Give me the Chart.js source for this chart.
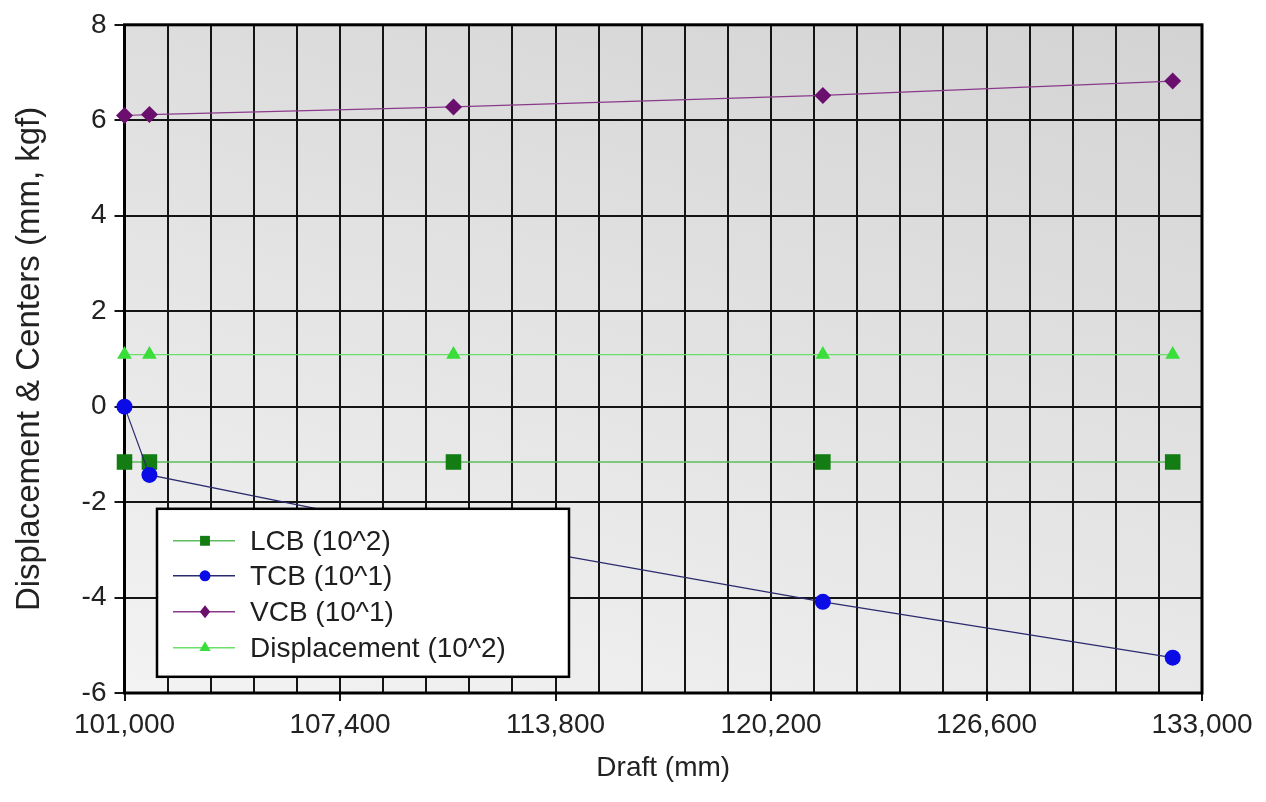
<!DOCTYPE html>
<html>
<head>
<meta charset="utf-8">
<script src="https://cdn.jsdelivr.net/npm/chart.js@4.4.1/dist/chart.umd.min.js"></script>
<style>
html,body{margin:0;padding:0;background:#fff;}
#wrap{width:1266px;height:802px;position:relative;}
</style>
</head>
<body>
<div id="wrap"><canvas id="c"></canvas></div>
<script>
// ---- data ----
const drafts = [101000, 101740, 110770, 121740, 132130];
const lcb = [-1.16, -1.16, -1.16, -1.16, -1.16];
const tcb = [0, -1.43, -2.72, -4.09, -5.26];
const vcb = [6.10, 6.12, 6.28, 6.52, 6.82];
const displacement = [1.09, 1.09, 1.09, 1.09, 1.09];
const seriesNames = ['LCB (10^2)', 'TCB (10^1)', 'VCB (10^1)', 'Displacement (10^2)'];
const xTickValues = [101000, 107400, 113800, 120200, 126600, 133000];
const xGridStep = 1280;
const yTickValues = [-6, -4, -2, 0, 2, 4, 6, 8];
const xTitle = 'Draft (mm)';
const yTitle = 'Displacement & Centers (mm, kgf)';

const FONT = "'Liberation Sans', Arial, Helvetica, sans-serif";
Chart.defaults.font.family = FONT;
Chart.defaults.color = '#222';

const pts = arr => drafts.map((d, i) => ({x: d, y: arr[i]}));

const styles = [
  {line: '#5dbd5d', fill: '#137d13', style: 'rect', r: 11, lr: 7, lw: 1.5, order: 2},
  {line: '#2a2a6e', fill: '#0b0be6', style: 'circle', r: 8, lr: 5.5, lw: 1.2, order: 1},
  {line: '#8a3a8a', fill: '#6a0f6e', style: 'rectRot', r: 8.5, lr: 6.5, lw: 1.2, order: 3},
  {line: '#6adf6a', fill: '#3ade3a', style: 'triangle', r: 8.5, lr: 6.5, lw: 1.2, order: 4}
];
const seriesData = [lcb, tcb, vcb, displacement];

const datasets = seriesNames.map((name, i) => ({
  label: name,
  data: pts(seriesData[i]),
  borderColor: styles[i].line,
  borderWidth: styles[i].lw,
  backgroundColor: styles[i].fill,
  pointBackgroundColor: styles[i].fill,
  pointBorderColor: styles[i].fill,
  pointBorderWidth: 0,
  pointStyle: styles[i].style,
  pointRadius: styles[i].r,
  tension: 0,
  clip: false,
  order: styles[i].order
}));

const bgPlugin = {
  id: 'bgGrad',
  beforeDraw(chart) {
    const {ctx, chartArea: ca} = chart;
    const w = ca.right - ca.left, h = ca.bottom - ca.top;
    const a = 9, b = 19;
    const Dx = a / (w * (a + b)), Dy = -b / (h * (a + b));
    const n2 = Dx * Dx + Dy * Dy;
    const x0 = ca.left, y0 = ca.bottom;
    const g = ctx.createLinearGradient(x0, y0, x0 + Dx / n2, y0 + Dy / n2);
    g.addColorStop(0, '#f3f3f3');
    g.addColorStop(1, '#d3d3d3');
    ctx.save();
    ctx.fillStyle = g;
    ctx.fillRect(ca.left, ca.top, w, h);
    ctx.restore();
  }
};

const framePlugin = {
  id: 'frame',
  beforeDatasetsDraw(chart) {
    const {ctx, chartArea: ca} = chart;
    ctx.save();
    ctx.strokeStyle = '#000';
    ctx.lineWidth = 3;
    ctx.strokeRect(ca.left, ca.top, ca.right - ca.left, ca.bottom - ca.top);
    ctx.restore();
  }
};

function marker(ctx, style, x, y, r, color) {
  ctx.fillStyle = color;
  ctx.beginPath();
  if (style === 'rect') {
    const s = r * Math.SQRT1_2;
    ctx.rect(x - s, y - s, 2 * s, 2 * s);
  } else if (style === 'circle') {
    ctx.arc(x, y, r, 0, Math.PI * 2);
  } else if (style === 'rectRot') {
    ctx.moveTo(x, y - r); ctx.lineTo(x + r * 0.8, y); ctx.lineTo(x, y + r); ctx.lineTo(x - r * 0.8, y); ctx.closePath();
  } else if (style === 'triangle') {
    ctx.moveTo(x, y - r);
    ctx.lineTo(x + r * 0.866, y + r * 0.5);
    ctx.lineTo(x - r * 0.866, y + r * 0.5);
    ctx.closePath();
  }
  ctx.fill();
}

const legendPlugin = {
  id: 'boxLegend',
  afterDatasetsDraw(chart) {
    const {ctx, chartArea: ca} = chart;
    const L = ca.left + 32.5, T = ca.top + 484, W = 412, H = 168;
    ctx.save();
    ctx.fillStyle = '#fff';
    ctx.fillRect(L, T, W, H);
    ctx.strokeStyle = '#000';
    ctx.lineWidth = 2.5;
    ctx.strokeRect(L, T, W, H);
    const rows = [32, 67, 103, 139];
    ctx.font = '28px ' + FONT;
    ctx.textBaseline = 'middle';
    ctx.textAlign = 'left';
    seriesNames.forEach((name, i) => {
      const y = T + rows[i];
      ctx.strokeStyle = styles[i].line;
      ctx.lineWidth = 1.5;
      ctx.beginPath();
      ctx.moveTo(L + 16, y); ctx.lineTo(L + 78, y);
      ctx.stroke();
      marker(ctx, styles[i].style, L + 48, y, styles[i].lr, styles[i].fill);
      ctx.fillStyle = '#1e1e1e';
      ctx.fillText(name, L + 93, y + 1);
    });
    ctx.restore();
  }
};

new Chart(document.getElementById('c'), {
  type: 'line',
  data: {datasets},
  options: {
    responsive: true,
    maintainAspectRatio: false,
    animation: false,
    events: [],
    layout: {padding: {left: 0, right: 64, top: 21, bottom: 0}},
    plugins: {legend: {display: false}, tooltip: {enabled: false}},
    scales: {
      x: {
        type: 'linear',
        min: xTickValues[0],
        max: xTickValues[xTickValues.length - 1],
        afterBuildTicks(scale) {
          const t = [];
          for (let v = xTickValues[0]; v <= xTickValues[xTickValues.length - 1]; v += xGridStep) t.push({value: v});
          scale.ticks = t;
        },
        afterFit(scale) { scale.height = 109; },
        ticks: {
          autoSkip: false, maxRotation: 0, minRotation: 0, padding: 7,
          font: {size: 28},
          color: '#222',
          callback: v => xTickValues.includes(v) ? v.toLocaleString('en-US') : ''
        },
        grid: {
          color: '#141414', lineWidth: 2, tickLength: 8, drawTicks: true,
          tickColor: c => (c.tick && xTickValues.includes(c.tick.value)) ? '#141414' : 'rgba(0,0,0,0)'
        },
        border: {display: false},
        title: {display: true, text: xTitle, font: {size: 28, lineHeight: 1.2}, color: '#222', padding: {top: 0, bottom: 17}}
      },
      y: {
        min: yTickValues[0],
        max: yTickValues[yTickValues.length - 1],
        afterBuildTicks(scale) { scale.ticks = yTickValues.map(v => ({value: v})); },
        afterFit(scale) { scale.width = 124.5; },
        ticks: {padding: 8, font: {size: 28}, color: '#222'},
        grid: {color: '#141414', lineWidth: 2, tickLength: 10, tickColor: '#141414'},
        border: {display: false},
        title: {display: true, text: yTitle, font: {size: 33, lineHeight: 1.2}, color: '#222', padding: {top: 10, bottom: 0}}
      }
    }
  },
  plugins: [bgPlugin, framePlugin, legendPlugin]
});
</script>
</body>
</html>
